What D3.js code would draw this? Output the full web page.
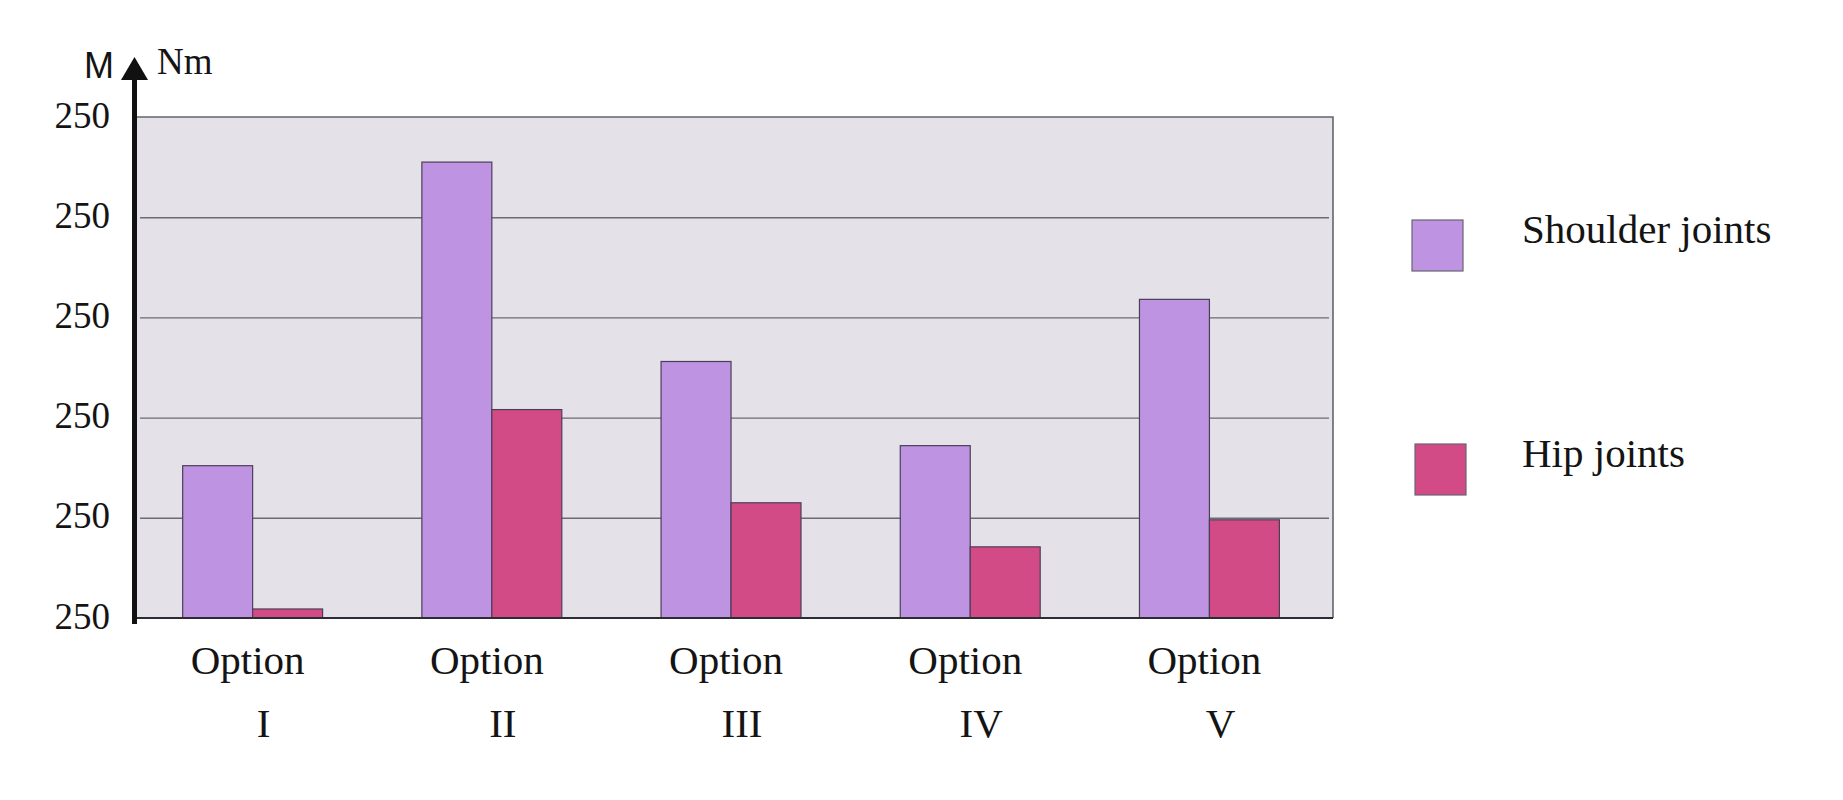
<!DOCTYPE html>
<html>
<head>
<meta charset="utf-8">
<script src="https://cdn.jsdelivr.net/npm/d3@7"></script>
<style>
  body { margin: 0; background: #fff; }
  text { font-family: "Liberation Serif", "Times New Roman", serif; fill: #141414; }
</style>
</head>
<body>
<div id="chart"></div>
<script>
// data
const options = ["I", "II", "III", "IV", "V"]
const series = ["Shoulder joints", "Hip joints"]
const shoulder = [76, 227.5, 128, 86, 159]
const hip = [4.5, 104, 57.5, 35.5, 49]
const yTicks = [0, 50, 100, 150, 200, 250]
const yTickLabels = ["250", "250", "250", "250", "250", "250"]

const WIDTH = 1843
const HEIGHT = 800
const LEFT = 137, RIGHT = 1333, TOP = 117, BOTTOM = 618

const colors = { "Shoulder joints": "#be93e1", "Hip joints": "#d24b86" }

const svg = d3.select("#chart")
  .append("svg")
  .attr("width", WIDTH)
  .attr("height", HEIGHT)

const y = d3.scaleLinear().domain([0, 250]).range([BOTTOM, TOP])

const x = d3.scaleBand()
  .domain(options)
  .range([LEFT, RIGHT])
  .paddingInner(0.415)
  .paddingOuter(0.2075)
  .align(0.46)

const xs = d3.scaleBand().domain(series).range([0, x.bandwidth()])

// plot background
svg.append("rect")
  .attr("x", LEFT)
  .attr("y", TOP)
  .attr("width", RIGHT - LEFT)
  .attr("height", BOTTOM - TOP)
  .attr("fill", "#e4e2e8")

// grid lines
svg.append("g")
  .attr("transform", `translate(${LEFT},0)`)
  .call(d3.axisRight(y).tickValues(yTicks.slice(1, -1)).tickSize(RIGHT - LEFT - 4).tickFormat(""))
  .call(g => g.select(".domain").remove())
  .call(g => g.selectAll("line").attr("stroke", "#6c6a72").attr("stroke-width", 1.4).attr("x1", 3))

// frame: top and right in grey
svg.append("path")
  .attr("d", `M${LEFT},${TOP}H${RIGHT}V${BOTTOM}`)
  .attr("fill", "none")
  .attr("stroke", "#66646a")
  .attr("stroke-width", 1.6)

// bars
const rows = options.map((o, i) => ({ option: o, values: [shoulder[i], hip[i]] }))

svg.append("g")
  .selectAll("g")
  .data(rows)
  .join("g")
  .attr("transform", d => `translate(${x(d.option)},0)`)
  .selectAll("rect")
  .data(d => d.values.map((v, j) => ({ key: series[j], value: v })))
  .join("rect")
  .attr("x", d => xs(d.key))
  .attr("width", xs.bandwidth())
  .attr("y", d => y(d.value))
  .attr("height", d => y(0) - y(d.value))
  .attr("fill", d => colors[d.key])
  .attr("stroke", "#4b3f58")
  .attr("stroke-width", 1.2)

// baseline
svg.append("line")
  .attr("x1", LEFT).attr("x2", RIGHT)
  .attr("y1", BOTTOM).attr("y2", BOTTOM)
  .attr("stroke", "#2e2c33")
  .attr("stroke-width", 1.8)

// y axis: thick arrow
svg.append("line")
  .attr("x1", 134.5).attr("x2", 134.5)
  .attr("y1", 624).attr("y2", 78)
  .attr("stroke", "#111")
  .attr("stroke-width", 5)

svg.append("path")
  .attr("d", "M134.5,57 L121,80 L148,80 Z")
  .attr("fill", "#111")

svg.append("g")
  .selectAll("text")
  .data(yTicks)
  .join("text")
  .attr("x", 110)
  .attr("y", d => y(d) - 2)
  .attr("text-anchor", "end")
  .attr("dominant-baseline", "central")
  .attr("font-size", 37)
  .text((d, i) => yTickLabels[i])

svg.append("text")
  .attr("x", 84)
  .attr("y", 78)
  .style("font-family", "'Liberation Sans', Arial, sans-serif")
  .attr("font-size", 36)
  .text("M")

svg.append("text")
  .attr("x", 157)
  .attr("y", 74)
  .attr("font-size", 37)
  .text("Nm")

// category labels
const labels = svg.append("g")
  .selectAll("g")
  .data(options)
  .join("g")
  .attr("transform", d => `translate(${x(d) + x.bandwidth() / 2},0)`)

labels.append("text")
  .attr("x", -5)
  .attr("y", 674)
  .attr("text-anchor", "middle")
  .attr("font-size", 41)
  .text("Option")

labels.append("text")
  .attr("x", 11)
  .attr("y", 737)
  .attr("text-anchor", "middle")
  .attr("font-size", 41)
  .text(d => d)

// legend
const legend = svg.append("g")
  .selectAll("g")
  .data(series)
  .join("g")
  .attr("transform", (d, i) => `translate(${1412 + i * 3},${220 + i * 224})`)

legend.append("rect")
  .attr("width", 51)
  .attr("height", 51)
  .attr("fill", d => colors[d])
  .attr("stroke", "#6a6470")
  .attr("stroke-width", 1.2)

legend.append("text")
  .attr("x", (d, i) => 110 - i * 3)
  .attr("y", 23)
  .attr("font-size", 41)
  .text(d => d)
</script>
</body>
</html>
